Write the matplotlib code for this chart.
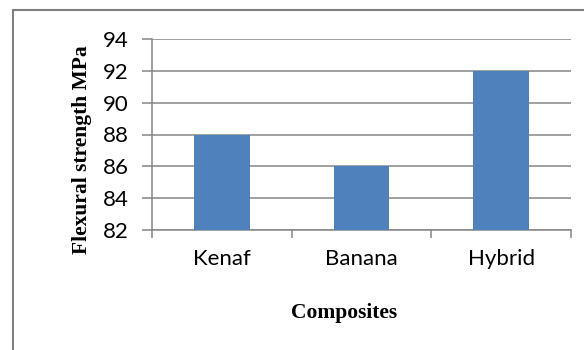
import matplotlib.pyplot as plt
from matplotlib.patches import Rectangle
import numpy as np

# data
categories = ['Kenaf', 'Banana', 'Hybrid']
strength = [88, 86, 92]
yticks = [82, 84, 86, 88, 90, 92, 94]

grid_col = '#868686'
bar_col = '#4F81BD'

fig = plt.figure(figsize=(5.84, 3.5), dpi=100)
fig.patch.set_facecolor('white')

# outer chart box (left/top visible)
fig.patches.append(Rectangle((13 / 584, -0.05), 1.2, 1 - 10 / 350 + 0.05,
                             transform=fig.transFigure, fill=False,
                             edgecolor='#7f7f7f', linewidth=1.5))

ax = fig.add_axes([152 / 584, 1 - 230 / 350, (571 - 152) / 584, (230 - 39) / 350])

x = np.arange(len(categories)) + 0.5
ax.bar(x, strength, width=0.4, color=bar_col, zorder=3)

ax.set_xlim(0, len(categories))
ax.set_ylim(82, 94)
ax.set_yticks(yticks)
ax.yaxis.grid(True, color=grid_col, linewidth=1.1)
ax.set_axisbelow(True)

ax.set_xticks(np.arange(len(categories) + 1))
ax.set_xticklabels([])
ax.set_xticks(x, minor=True)
ax.set_xticklabels(categories, minor=True, fontsize=16, family='Lato')
ax.tick_params(axis='x', which='major', length=6, color=grid_col, width=1.1)
ax.tick_params(axis='x', which='minor', length=0, pad=14)
ax.tick_params(axis='y', length=7, color=grid_col, width=1.1, labelsize=16, pad=10)
for lbl in ax.get_yticklabels():
    lbl.set_family('Lato')

for side in ['top', 'right']:
    ax.spines[side].set_visible(False)
for side in ['left', 'bottom']:
    ax.spines[side].set_color(grid_col)
    ax.spines[side].set_linewidth(1.1)

fig.text(82 / 584, 1 - 150 / 350, 'Flexural strength MPa', rotation=90,
         ha='center', va='center', fontsize=15.5, fontweight='bold',
         family='Liberation Serif')
fig.text(344 / 584, 1 - 313 / 350, 'Composites', ha='center', va='center',
         fontsize=15.5, fontweight='bold', family='Liberation Serif')

fig.savefig('out.png', dpi=100)
